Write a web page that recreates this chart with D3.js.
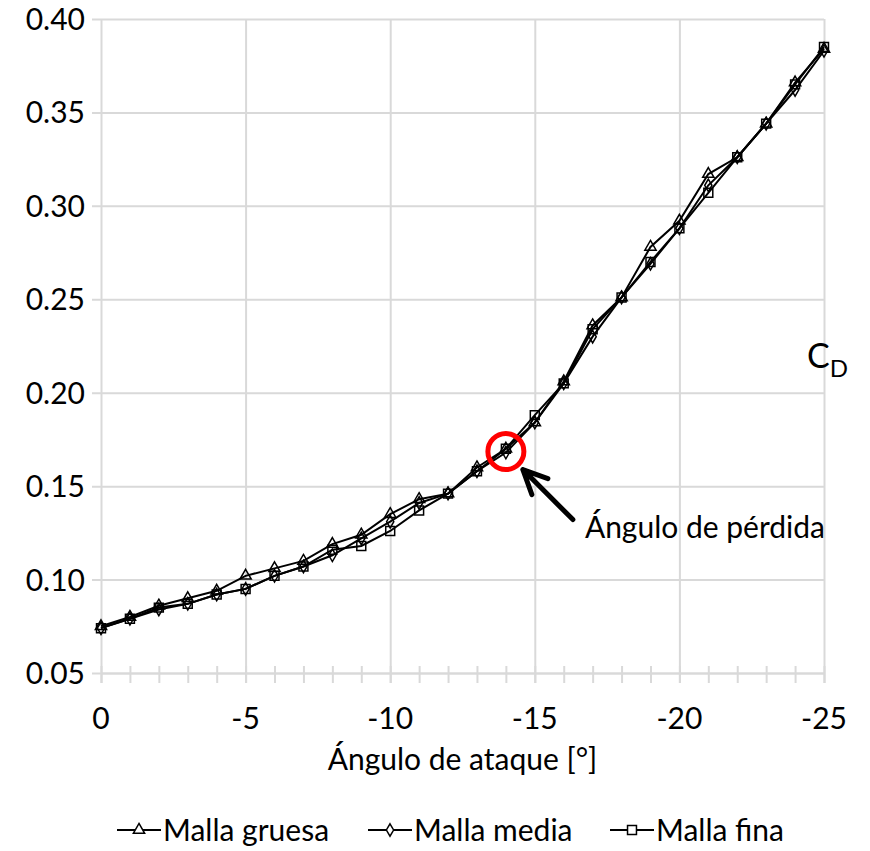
<!DOCTYPE html>
<html>
<head>
<meta charset="utf-8">
<script src="https://cdn.jsdelivr.net/npm/d3@7"></script>
<style>
  body { margin: 0; background: #fff; }
  text { font-family: Lato, "Open Sans", sans-serif; fill: #000; }
</style>
</head>
<body>
<div id="chart"></div>
<script>
// angle of attack (degrees) and drag coefficient for each mesh
var angles = [0, -1, -2, -3, -4, -5, -6, -7, -8, -9, -10, -11, -12, -13, -14, -15, -16, -17, -18, -19, -20, -21, -22, -23, -24, -25];
var mallaGruesa = [0.075, 0.080, 0.086, 0.090, 0.094, 0.102, 0.106, 0.110, 0.119, 0.124, 0.135, 0.143, 0.146, 0.160, 0.170, 0.184, 0.206, 0.236, 0.251, 0.278, 0.292, 0.317, 0.326, 0.344, 0.366, 0.384];
var mallaMedia = [0.074, 0.079, 0.084, 0.087, 0.092, 0.095, 0.102, 0.107, 0.113, 0.122, 0.131, 0.141, 0.146, 0.158, 0.168, 0.184, 0.205, 0.230, 0.251, 0.269, 0.288, 0.311, 0.326, 0.344, 0.362, 0.383];
var mallaFina = [0.074, 0.079, 0.085, 0.087, 0.092, 0.095, 0.102, 0.107, 0.116, 0.118, 0.126, 0.137, 0.146, 0.158, 0.170, 0.188, 0.205, 0.234, 0.251, 0.270, 0.288, 0.307, 0.326, 0.344, 0.365, 0.385];
var xTicks = [0, -5, -10, -15, -20, -25];
var yTicks = [0.05, 0.10, 0.15, 0.20, 0.25, 0.30, 0.35, 0.40];
var seriesNames = ['Malla gruesa', 'Malla media', 'Malla fina'];
var stallAngle = -14, stallCd = 0.1685;

var width = 870, height = 851,
    plot = { left: 101, top: 19, right: 824, bottom: 673 },
    gridColor = '#d9d9d9';

var svg = d3.select('#chart').append('svg')
    .attr('width', width)
    .attr('height', height);

var x = d3.scaleLinear().domain([0, -25]).range([plot.left, plot.right]);
var y = d3.scaleLinear().domain([0.05, 0.40]).range([plot.bottom, plot.top]);

//horizontal gridlines (with small outside tick on the left)
svg.append('g')
    .attr('transform', 'translate(' + plot.left + ',0)')
    .call(d3.axisLeft(y).tickValues(yTicks).tickSize(-(plot.right - plot.left)).tickSizeOuter(0).tickFormat(''))
    .call(function (g) {
        g.select('.domain').remove();
        g.selectAll('line').attr('stroke', gridColor).attr('stroke-width', 2).attr('x1', -9);
    });

//vertical gridlines
svg.append('g')
    .attr('transform', 'translate(0,' + plot.bottom + ')')
    .call(d3.axisBottom(x).tickValues(xTicks).tickSize(-(plot.bottom - plot.top)).tickSizeOuter(0).tickFormat(''))
    .call(function (g) {
        g.select('.domain').remove();
        g.selectAll('line').attr('stroke', gridColor).attr('stroke-width', 2).attr('y1', 10);
    });

//minor ticks crossing the x axis
svg.append('g')
    .attr('transform', 'translate(0,' + plot.bottom + ')')
    .call(d3.axisBottom(x).tickValues(angles).tickSize(10).tickSizeOuter(0).tickFormat(''))
    .call(function (g) {
        g.select('.domain').attr('stroke', gridColor).attr('stroke-width', 2);
        g.selectAll('line').attr('stroke', gridColor).attr('stroke-width', 2).attr('y1', -7);
    });

//tick labels
svg.append('g').selectAll('text')
    .data(yTicks)
    .enter().append('text')
    .attr('x', plot.left - 16)
    .attr('y', function (d) { return y(d) + 11; })
    .attr('text-anchor', 'end')
    .style('font-size', '30px')
    .text(function (d) { return d.toFixed(2); });

svg.append('g').selectAll('text')
    .data(xTicks)
    .enter().append('text')
    .attr('x', function (d) { return x(d); })
    .attr('y', plot.bottom + 56)
    .attr('text-anchor', 'middle')
    .style('font-size', '30px')
    .text(function (d) { return d; });

//axis titles
svg.append('text')
    .attr('x', (plot.left + plot.right) / 2)
    .attr('y', 770)
    .attr('text-anchor', 'middle')
    .style('font-size', '30px')
    .text('Ángulo de ataque [°]');

var cd = svg.append('text')
    .attr('x', 807)
    .attr('y', 368)
    .style('font-size', '34px');
cd.append('tspan').text('C');
cd.append('tspan').attr('dy', 9).style('font-size', '24px').text('D');

//marker shapes
var symbols = [d3.symbolTriangle, d3.symbolDiamond, d3.symbolSquare],
    symbolSizes = [55, 45, 80],
    seriesData = [mallaGruesa, mallaMedia, mallaFina];

var line = d3.line()
    .x(function (d) { return x(d[0]); })
    .y(function (d) { return y(d[1]); });

seriesData.forEach(function (values, s) {
    var pts = angles.map(function (a, i) { return [a, values[i]]; });
    var g = svg.append('g').attr('class', 'serie-' + s);

    g.append('path')
        .attr('d', line(pts))
        .attr('fill', 'none')
        .attr('stroke', '#000')
        .attr('stroke-width', 2);

    g.selectAll('path.marker')
        .data(pts)
        .enter().append('path')
        .attr('class', 'marker')
        .attr('transform', function (d) { return 'translate(' + x(d[0]) + ',' + y(d[1]) + ')'; })
        .attr('d', d3.symbol().type(symbols[s]).size(symbolSizes[s]))
        .attr('fill', 'none')
        .attr('stroke', '#000')
        .attr('stroke-width', 1.5);
});

//stall annotation
var cx = x(stallAngle), cy = y(stallCd);
svg.append('circle')
    .attr('cx', cx)
    .attr('cy', cy)
    .attr('r', 18)
    .attr('fill', 'none')
    .attr('stroke', '#ff0000')
    .attr('stroke-width', 5);

var tipX = cx + 17, tipY = cy + 18;
svg.append('path')
    .attr('d', 'M' + (tipX + 50) + ',' + (tipY + 50) + 'L' + tipX + ',' + tipY +
        'M' + (tipX + 25) + ',' + (tipY + 9) + 'L' + tipX + ',' + tipY + 'L' + (tipX + 9) + ',' + (tipY + 25))
    .attr('fill', 'none')
    .attr('stroke', '#000')
    .attr('stroke-width', 5)
    .attr('stroke-linecap', 'round')
    .attr('stroke-linejoin', 'round');

svg.append('text')
    .attr('x', tipX + 62)
    .attr('y', tipY + 68)
    .style('font-size', '30px')
    .text('Ángulo de pérdida');

//legend
var legendX = [117, 368, 610], legendY = 830;
seriesNames.forEach(function (name, s) {
    var lg = svg.append('g').attr('transform', 'translate(' + legendX[s] + ',' + legendY + ')');
    lg.append('line')
        .attr('x1', 0).attr('x2', 44)
        .attr('stroke', '#000').attr('stroke-width', 2);
    lg.append('path')
        .attr('transform', 'translate(22,0)')
        .attr('d', d3.symbol().type(symbols[s]).size(symbolSizes[s]))
        .attr('fill', '#fff')
        .attr('stroke', '#000')
        .attr('stroke-width', 1.5);
    lg.append('text')
        .attr('x', 46)
        .attr('y', 11)
        .style('font-size', '30px')
        .text(name);
});
</script>
</body>
</html>
